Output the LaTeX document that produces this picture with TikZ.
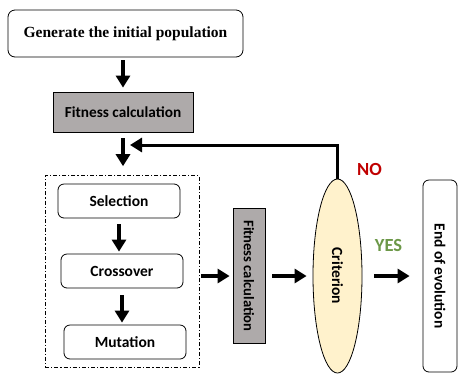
\documentclass[tikz,border=0pt]{standalone}
\usepackage{fontspec}
\setmainfont{Carlito}
\newfontfamily\serifbold{Liberation Serif}
\usepackage{tikz}
\usetikzlibrary{arrows.meta,positioning,shapes.geometric,fit,calc}
\definecolor{boxgray}{RGB}{174,170,170}
\definecolor{critfill}{RGB}{255,242,204}
\definecolor{nored}{RGB}{192,0,0}
\definecolor{yesgreen}{RGB}{108,152,72}

\begin{document}
\begin{tikzpicture}[x=1pt, y=-1pt,
start/.style={draw, rounded corners=7pt, line width=0.8pt, minimum width=235pt, minimum height=47pt, font=\serifbold\fontsize{15.5}{18}\selectfont\bfseries},
fitbox/.style={draw, line width=0.8pt, fill=boxgray, minimum width=140pt, minimum height=40pt, font=\fontsize{15.3}{18}\selectfont\bfseries},
op/.style={draw, rounded corners=6pt, line width=0.8pt, minimum width=122pt, minimum height=34pt, font=\fontsize{15.5}{18}\selectfont\bfseries},
group/.style={draw, dash pattern=on 4pt off 2pt on 1.2pt off 2pt, line width=0.8pt, inner xsep=12.5pt, inner ysep=8pt},
crit/.style={draw, ellipse, fill=critfill, line width=0.8pt, inner sep=0pt, rotate=-90, minimum width=194pt, minimum height=49pt, font=\fontsize{15.5}{18}\selectfont\bfseries},
endbox/.style={draw, rounded corners=6pt, line width=0.8pt, rotate=-90, minimum width=192pt, minimum height=34pt, font=\fontsize{15.4}{18}\selectfont\bfseries},
lab/.style={font=\fontsize{18.5}{20}\selectfont\bfseries},
arr/.style={-{Triangle[length=12pt,width=14pt]}, line width=3.5pt}
]
\useasboundingbox (0,0) rectangle (458,376);
\node[start] (init) at (125.5,33.5) {Generate the initial population};
\node[fitbox] (fit1) at (123,112) {Fitness calculation};
\node[op] (sel) at (119,201) {Selection};
\node[op] (cro) at (122,271) {Crossover};
\node[op] (mut) at (125,342) {Mutation};
\node[group, fit=(sel)(cro)(mut)] (grp) {};
\node[fitbox, rotate=-90, minimum width=135pt, minimum height=32pt, font=\fontsize{14.6}{18}\selectfont\bfseries] (fit2) at (249,276) {Fitness calculation};
\node[crit] (crit) at (337.5,276) {Criterion};
\node[endbox] (end) at (440,276) {End of evolution};
\coordinate (back) at (130,145);

\draw[arr, shorten <=3pt, shorten >=4pt] (fit1.north |- init.south) -- (fit1.north);
\draw[arr, shorten <=6pt, shorten >=9pt] (fit1.south) -- (fit1.south |- grp.north);
\draw[arr, shorten <=6pt, shorten >=2pt] (sel.south) -- (sel.south |- cro.north);
\draw[arr, shorten <=7pt, shorten >=2pt] (cro.south) -- (cro.south |- mut.north);
\draw[arr, shorten <=2pt, shorten >=3pt] (grp.east |- fit2) -- (fit2);
\draw[arr, shorten <=7pt, shorten >=6pt] (fit2) -- (crit);
\draw[arr, shorten <=12pt, shorten >=13pt] (crit) -- (end);
\draw[arr, line width=3pt] (crit) |- (back);

\node[lab, text=nored] (no) at (369.5,169.5) {NO};
\node[lab, text=yesgreen] (yes) at (388.5,245) {YES};
\end{tikzpicture}
\end{document}
